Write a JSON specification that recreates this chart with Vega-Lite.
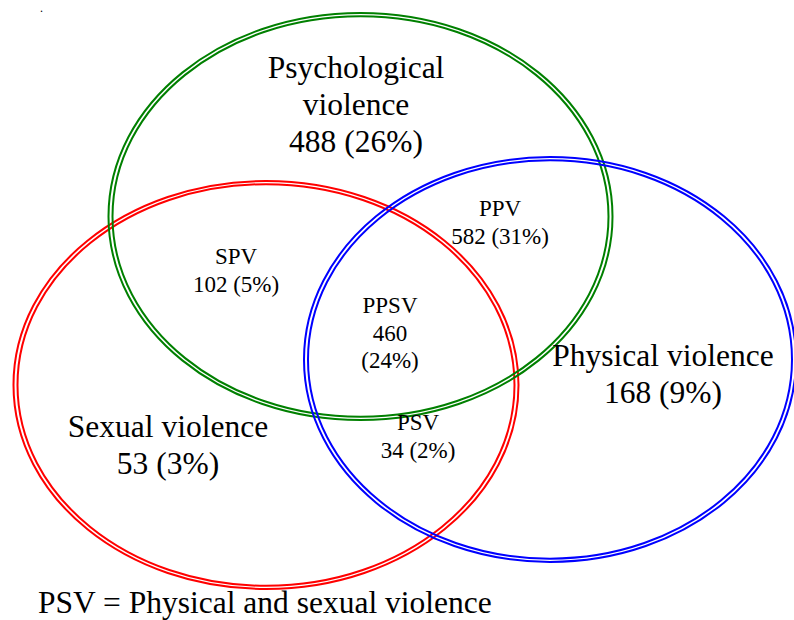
{
  "$schema": "https://vega.github.io/schema/vega-lite/v6.json",
  "width": 794,
  "height": 620,
  "padding": 0,
  "autosize": {"type": "none"},
  "background": "white",
  "config": {"view": {"stroke": null}},
  "datasets": {
    "sets": [
      {"set": "Sexual", "cx": 266, "cy": 385},
      {"set": "Psychological", "cx": 360.5, "cy": 216.5},
      {"set": "Physical", "cx": 550, "cy": 359.5}
    ],
    "labels": [
      {"label": "Psychological\nviolence\n488 (26%)", "kind": "big", "x": 356, "y": 78},
      {"label": "Physical violence\n168 (9%)", "kind": "big", "x": 663, "y": 366},
      {"label": "Sexual violence\n53 (3%)", "kind": "big", "x": 168, "y": 437},
      {"label": "SPV\n102 (5%)", "kind": "small", "x": 236, "y": 264},
      {"label": "PPV\n582 (31%)", "kind": "small", "x": 500, "y": 216},
      {"label": "PPSV\n460\n(24%)", "kind": "small", "x": 390, "y": 313},
      {"label": "PSV\n34 (2%)", "kind": "small", "x": 418, "y": 430}
    ],
    "notes": [
      {"label": "PSV = Physical and sexual violence", "kind": "big", "x": 38, "y": 613},
      {"label": ".", "kind": "small", "x": 40, "y": 12}
    ]
  },
  "encoding": {
    "x": {"field": "cx", "type": "quantitative", "scale": {"domain": [0, 794], "nice": false, "zero": false}, "axis": null},
    "y": {"field": "cy", "type": "quantitative", "scale": {"domain": [0, 620], "nice": false, "zero": false, "reverse": true}, "axis": null}
  },
  "layer": [
    {
      "data": {"name": "sets"},
      "transform": [{"filter": "datum.set === 'Sexual'"}],
      "mark": {"type": "point", "filled": false, "strokeWidth": 2, "opacity": 1, "stroke": "#ff0000", "size": 255025,
        "shape": "M 1 0 C 1 0.4463 0.5523 0.808 0 0.808 C -0.5523 0.808 -1 0.4463 -1 0 C -1 -0.4463 -0.5523 -0.808 0 -0.808 C 0.5523 -0.808 1 -0.4463 1 0 Z"}
    },
    {
      "data": {"name": "sets"},
      "transform": [{"filter": "datum.set === 'Sexual'"}],
      "mark": {"type": "point", "filled": false, "strokeWidth": 2, "opacity": 1, "stroke": "#ff0000", "size": 247009,
        "shape": "M 1 0 C 1 0.4463 0.5523 0.808 0 0.808 C -0.5523 0.808 -1 0.4463 -1 0 C -1 -0.4463 -0.5523 -0.808 0 -0.808 C 0.5523 -0.808 1 -0.4463 1 0 Z"}
    },
    {
      "data": {"name": "sets"},
      "transform": [{"filter": "datum.set === 'Psychological'"}],
      "mark": {"type": "point", "filled": false, "strokeWidth": 2, "opacity": 1, "stroke": "#008000", "size": 254016,
        "shape": "M 1 0 C 1 0.446 0.5523 0.8075 0 0.8075 C -0.5523 0.8075 -1 0.446 -1 0 C -1 -0.446 -0.5523 -0.8075 0 -0.8075 C 0.5523 -0.8075 1 -0.446 1 0 Z"}
    },
    {
      "data": {"name": "sets"},
      "transform": [{"filter": "datum.set === 'Psychological'"}],
      "mark": {"type": "point", "filled": false, "strokeWidth": 2, "opacity": 1, "stroke": "#008000", "size": 246016,
        "shape": "M 1 0 C 1 0.446 0.5523 0.8075 0 0.8075 C -0.5523 0.8075 -1 0.446 -1 0 C -1 -0.446 -0.5523 -0.8075 0 -0.8075 C 0.5523 -0.8075 1 -0.446 1 0 Z"}
    },
    {
      "data": {"name": "sets"},
      "transform": [{"filter": "datum.set === 'Physical'"}],
      "mark": {"type": "point", "filled": false, "strokeWidth": 2, "opacity": 1, "stroke": "#0000ff", "size": 242064,
        "shape": "M 1 0 C 1 0.4545 0.5523 0.823 0 0.823 C -0.5523 0.823 -1 0.4545 -1 0 C -1 -0.4545 -0.5523 -0.823 0 -0.823 C 0.5523 -0.823 1 -0.4545 1 0 Z"}
    },
    {
      "data": {"name": "sets"},
      "transform": [{"filter": "datum.set === 'Physical'"}],
      "mark": {"type": "point", "filled": false, "strokeWidth": 2, "opacity": 1, "stroke": "#0000ff", "size": 234256,
        "shape": "M 1 0 C 1 0.4545 0.5523 0.823 0 0.823 C -0.5523 0.823 -1 0.4545 -1 0 C -1 -0.4545 -0.5523 -0.823 0 -0.823 C 0.5523 -0.823 1 -0.4545 1 0 Z"}
    },
    {
      "data": {"name": "labels"},
      "transform": [{"filter": "datum.kind === 'big'"}],
      "mark": {"type": "text", "font": "Liberation Serif", "fontSize": 31.5, "lineHeight": 37, "align": "center", "baseline": "alphabetic", "lineBreak": "\n", "color": "black"},
      "encoding": {
        "x": {"field": "x", "type": "quantitative"},
        "y": {"field": "y", "type": "quantitative"},
        "text": {"field": "label", "type": "nominal"}
      }
    },
    {
      "data": {"name": "labels"},
      "transform": [{"filter": "datum.kind === 'small'"}],
      "mark": {"type": "text", "font": "Liberation Serif", "fontSize": 23, "lineHeight": 27.5, "align": "center", "baseline": "alphabetic", "lineBreak": "\n", "color": "black"},
      "encoding": {
        "x": {"field": "x", "type": "quantitative"},
        "y": {"field": "y", "type": "quantitative"},
        "text": {"field": "label", "type": "nominal"}
      }
    },
    {
      "data": {"name": "notes"},
      "transform": [{"filter": "datum.kind === 'big'"}],
      "mark": {"type": "text", "font": "Liberation Serif", "fontSize": 31.5, "align": "left", "baseline": "alphabetic", "color": "black"},
      "encoding": {
        "x": {"field": "x", "type": "quantitative"},
        "y": {"field": "y", "type": "quantitative"},
        "text": {"field": "label", "type": "nominal"}
      }
    },
    {
      "data": {"name": "notes"},
      "transform": [{"filter": "datum.kind === 'small'"}],
      "mark": {"type": "text", "font": "Liberation Serif", "fontSize": 12, "align": "left", "baseline": "alphabetic", "color": "black"},
      "encoding": {
        "x": {"field": "x", "type": "quantitative"},
        "y": {"field": "y", "type": "quantitative"},
        "text": {"field": "label", "type": "nominal"}
      }
    }
  ]
}
